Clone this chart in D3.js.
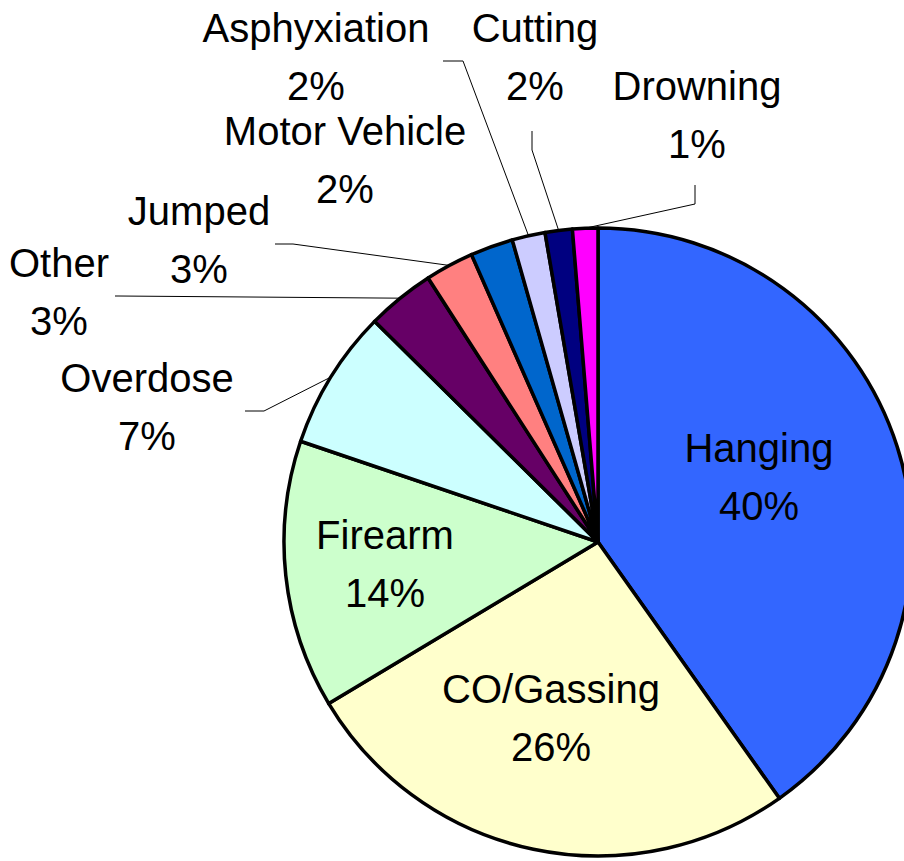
<!DOCTYPE html>
<html>
<head>
<meta charset="utf-8">
<script src="https://cdn.jsdelivr.net/npm/d3@7"></script>
<style>
  body { margin: 0; background: #fff; }
  text { font-family: "Liberation Sans", Arial, sans-serif; font-size: 40px; fill: #000; }
</style>
</head>
<body>
<div id="container"></div>
<script>
// data, clockwise from 12 o'clock
const categories = ["Hanging", "CO/Gassing", "Firearm", "Overdose", "Other", "Jumped",
                    "Motor Vehicle", "Asphyxiation", "Cutting", "Drowning"];
const values = [40.2, 26.2, 13.8, 7.2, 3.5, 2.5, 2.2, 1.7, 1.4, 1.3];
const pctLabels = ["40%", "26%", "14%", "7%", "3%", "3%", "2%", "2%", "2%", "1%"];
const colors = ["#3366FF", "#FFFFCC", "#CCFFCC", "#CCFFFF", "#660066", "#FF8080",
                "#0066CC", "#CCCCFF", "#000080", "#FF00FF"];

// label layout: text centre x, first baseline y, optional leader elbow [start, bend]
const labelLayout = {
  "Hanging":       { x: 759, y: 462 },
  "CO/Gassing":    { x: 551, y: 703 },
  "Firearm":       { x: 385, y: 549 },
  "Overdose":      { x: 147, y: 392, leader: [[245, 411], [264, 411]] },
  "Other":         { x: 59,  y: 277, leader: [[115, 296], [118, 296]] },
  "Jumped":        { x: 199, y: 225, leader: [[275, 244], [293, 244]] },
  "Motor Vehicle": { x: 345, y: 145 },
  "Asphyxiation":  { x: 316, y: 42,  leader: [[443, 61], [463, 61]] },
  "Cutting":       { x: 535, y: 42,  leader: [[532, 131], [532, 150]] },
  "Drowning":      { x: 697, y: 100, leader: [[695, 185], [695, 204]] }
};

function PieChart({
    width = 904,
    height = 861,
    cx = 598,
    cy = 542,
    radius = 314,
    lineGap = 58
  } = {}) {

    const svg = d3.select("#container").append("svg")
        .attr("width", width)
        .attr("height", height);

    const data = categories.map((c, i) => ({ name: c, value: values[i], pct: pctLabels[i], color: colors[i] }));

    const pie = d3.pie()
        .sort(null)
        .value(d => d.value);

    const arcs = pie(data);

    const arc = d3.arc()
        .innerRadius(0)
        .outerRadius(radius);

    const g = svg.append("g")
        .attr("transform", "translate(" + cx + "," + cy + ")");

    g.selectAll("path")
        .data(arcs)
        .enter().append("path")
        .attr("d", arc)
        .attr("fill", d => d.data.color)
        .attr("stroke", "#000")
        .attr("stroke-width", 3.5)
        .attr("stroke-linejoin", "round");

    // leader lines, from the label elbow to the middle of the slice rim
    const line = d3.line();
    svg.append("g")
        .selectAll("path")
        .data(arcs.filter(d => labelLayout[d.data.name].leader))
        .enter().append("path")
        .attr("d", function(d) {
            const mid = (d.startAngle + d.endAngle) / 2;
            const end = [cx + radius * Math.sin(mid), cy - radius * Math.cos(mid)];
            return line(labelLayout[d.data.name].leader.concat([end]));
        })
        .attr("fill", "none")
        .attr("stroke", "#000")
        .attr("stroke-width", 1);

    const labels = svg.append("g")
        .selectAll("text")
        .data(arcs)
        .enter().append("text")
        .attr("text-anchor", "middle")
        .attr("x", d => labelLayout[d.data.name].x)
        .attr("y", d => labelLayout[d.data.name].y);

    labels.append("tspan")
        .attr("x", d => labelLayout[d.data.name].x)
        .text(d => d.data.name);

    labels.append("tspan")
        .attr("x", d => labelLayout[d.data.name].x)
        .attr("dy", lineGap)
        .text(d => d.data.pct);
}

PieChart();
</script>
</body>
</html>
